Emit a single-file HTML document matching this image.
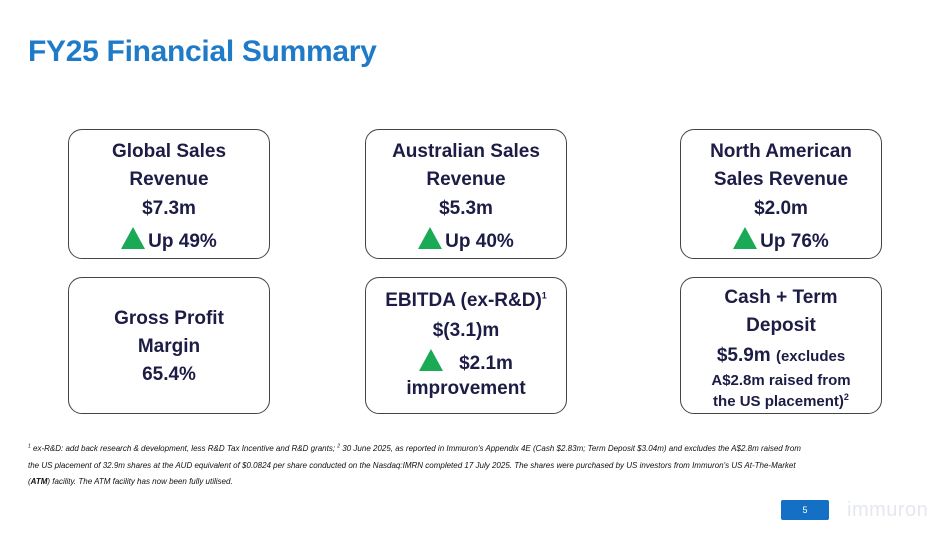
<!DOCTYPE html>
<html><head><meta charset="utf-8"><style>
body{margin:0;width:950px;height:533px;background:#fff;position:relative;overflow:hidden;font-family:"Liberation Sans",sans-serif}
.t{position:absolute;left:28px;top:35px;font-size:30px;font-weight:bold;color:#1f7bc8;letter-spacing:-0.3px}
.box{position:absolute;border:1.5px solid #444;border-radius:14px;box-sizing:border-box;background:#fff}
.l{position:absolute;left:0;right:0;text-align:center;font-weight:bold;color:#1c1c45;font-size:19px;line-height:22px;white-space:nowrap}
.tri{display:inline-block;width:0;height:0;border-left:12px solid transparent;border-right:12px solid transparent;border-bottom:22px solid #1aaa55;vertical-align:-2px;margin-right:3px}
.fn{position:absolute;left:28px;top:441px;width:800px;font-size:8px;line-height:16.5px;font-style:italic;color:#111}
.pg{position:absolute;left:781px;top:500px;width:48px;height:20px;background:#1470c4;border-radius:2px;color:#fff;font-size:9px;text-align:center;line-height:20px}
.logo{position:absolute;left:847px;top:499px;font-size:20px;color:#e4e8ee;letter-spacing:0.5px}
sup{font-size:9px;line-height:0}
</style></head><body>
<div class="t">FY25 Financial Summary</div>

<div class="box" style="left:68px;top:129px;width:202px;height:130px">
<div class="l" style="top:11px">Global Sales</div>
<div class="l" style="top:39px">Revenue</div>
<div class="l" style="top:68px">$7.3m</div>
<div class="l" style="top:97px"><span class="tri"></span>Up 49%</div></div>

<div class="box" style="left:365px;top:129px;width:202px;height:130px">
<div class="l" style="top:11px">Australian Sales</div>
<div class="l" style="top:39px">Revenue</div>
<div class="l" style="top:68px">$5.3m</div>
<div class="l" style="top:97px"><span class="tri"></span>Up 40%</div></div>

<div class="box" style="left:680px;top:129px;width:202px;height:130px">
<div class="l" style="top:11px">North American</div>
<div class="l" style="top:39px">Sales Revenue</div>
<div class="l" style="top:68px">$2.0m</div>
<div class="l" style="top:97px"><span class="tri"></span>Up 76%</div></div>

<div class="box" style="left:68px;top:277px;width:202px;height:137px">
<div class="l" style="top:30px">Gross Profit</div>
<div class="l" style="top:58px">Margin</div>
<div class="l" style="top:86px">65.4%</div></div>

<div class="box" style="left:365px;top:277px;width:202px;height:137px">
<div class="l" style="top:12px">EBITDA (ex-R&amp;D)<sup>1</sup></div>
<div class="l" style="top:42px">$(3.1)m</div>
<div class="l" style="top:71px"><span class="tri" style="margin-right:16px"></span>$2.1m</div>
<div class="l" style="top:100px">improvement</div></div>

<div class="box" style="left:680px;top:277px;width:202px;height:137px">
<div class="l" style="top:9px">Cash + Term</div>
<div class="l" style="top:37px">Deposit</div>
<div class="l" style="top:67px">$5.9m <span style="font-size:15px">(excludes</span></div>
<div class="l" style="top:92px;font-size:15px">A$2.8m raised from</div>
<div class="l" style="top:113px;font-size:15px">the US placement)<sup>2</sup></div></div>

<div class="fn"><sup style="font-size:5px">1</sup> ex-R&amp;D: add back research &amp; development, less R&amp;D Tax Incentive and R&amp;D grants; <sup style="font-size:5px">2</sup> 30 June 2025, as reported in Immuron's Appendix 4E (Cash $2.83m; Term Deposit $3.04m) and excludes the A$2.8m raised from<br>the US placement of 32.9m shares at the AUD equivalent of $0.0824 per share conducted on the Nasdaq:IMRN completed 17 July 2025. The shares were purchased by US investors from Immuron's US At-The-Market<br>(<b>ATM</b>) facility. The ATM facility has now been fully utilised.</div>
<div class="pg">5</div>
<div class="logo">immuron</div>
</body></html>
